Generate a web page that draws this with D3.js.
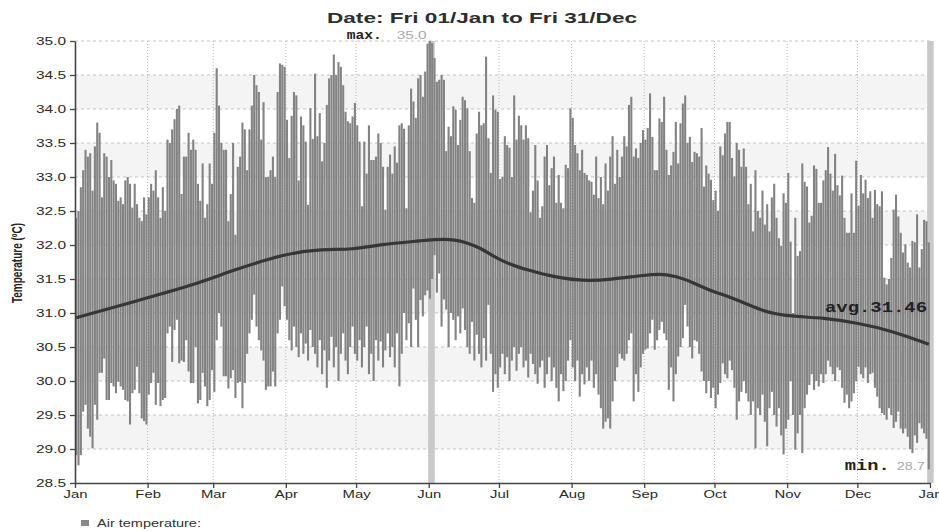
<!DOCTYPE html>
<html>
<head>
<meta charset="utf-8">
<script src="https://cdn.jsdelivr.net/npm/d3@7"></script>
<style>
  body { margin: 0; background: #fff; }
  text { font-family: "Liberation Sans", Arial, sans-serif; }
  .mono { font-family: "Liberation Mono", "DejaVu Sans Mono", monospace; font-weight: bold; }
</style>
</head>
<body>
<svg id="chart" width="939" height="531"></svg>
<script>
var title = "Date: Fri 01/Jan to Fri 31/Dec";
var yearStart = "2021-01-01";
var seriesName = "Air temperature:";
var yTitle = "Temperature (ºC)";
var avgTemp = 31.46;

// daily maximum, one line per month
var dayHigh = [
  32.4, 32.5, 32.85, 33.1, 33.4, 33.3, 33.35, 32.8, 33.45, 33.8, 33.65, 32.7, 33.35, 33.3, 33.0, 33.25, 32.95, 32.9, 32.65, 32.7, 32.6, 32.95, 33.0, 32.9, 32.55, 32.9, 32.6, 32.4, 32.35, 32.7, 32.45,
  32.7, 32.9, 32.8, 33.1, 32.7, 32.4, 32.85, 32.5, 33.55, 33.5, 33.7, 33.85, 34.0, 34.05, 32.75, 33.3, 33.3, 33.65, 33.4, 33.55, 33.4, 32.9, 32.65, 33.2, 32.4, 32.6, 33.2, 32.9,
  33.65, 34.6, 34.05, 33.5, 33.4, 33.4, 32.35, 32.75, 33.5, 32.15, 33.15, 33.3, 33.8, 33.7, 33.1, 33.7, 34.05, 34.5, 34.35, 34.25, 33.55, 34.1, 33.0, 33.0, 33.1, 33.3, 33.0, 34.25, 34.67, 34.65, 34.62,
  33.84, 33.28, 33.9, 34.25, 34.2, 32.95, 33.89, 33.76, 33.52, 32.59, 34.01, 33.56, 34.52, 33.6, 33.94, 33.23, 33.5, 34.06, 34.45, 34.5, 34.8, 34.5, 34.69, 34.62, 34.35, 33.96, 33.82, 33.79, 33.89, 34.09,
  33.76, 33.52, 32.57, 33.52, 33.05, 33.76, 33.25, 33.25, 33.3, 33.64, 33.5, 33.15, 32.52, 33.15, 33.33, 33.05, 33.45, 33.21, 33.76, 33.79, 33.71, 32.54, 33.76, 34.3, 34.11, 33.87, 34.45, 34.5, 34.18, 34.55, 34.96,
  35.0, 34.97, 34.75, 34.4, 34.43, 34.5, 34.43, 33.38, 33.74, 33.6, 34.04, 33.99, 33.47, 33.84, 34.18, 34.13, 34.01, 33.38, 32.69, 32.62, 33.64, 33.96, 33.76, 33.79, 34.77, 33.57, 33.06, 34.2, 33.99, 33.96,
  32.97, 33.0, 33.6, 33.47, 33.43, 33.0, 34.2, 33.55, 33.9, 33.76, 33.55, 33.76, 33.57, 32.48, 32.8, 33.47, 32.95, 32.4, 32.57, 33.3, 33.47, 32.88, 33.13, 33.3, 32.62, 33.03, 32.62, 32.54, 33.18, 33.13, 34.01,
  33.87, 33.47, 33.35, 33.1, 33.4, 33.06, 33.03, 32.95, 32.93, 32.74, 33.3, 32.69, 33.0, 32.6, 33.2, 32.8, 33.3, 33.6, 32.9, 33.4, 33.0, 33.3, 33.6, 33.45, 34.06, 34.18, 33.3, 33.42, 33.28, 33.5, 33.69,
  33.55, 33.72, 34.23, 33.59, 33.1, 33.1, 33.86, 33.81, 34.18, 33.4, 33.03, 33.17, 33.37, 33.81, 33.2, 33.79, 34.08, 34.2, 33.5, 33.59, 33.22, 33.37, 33.35, 33.3, 33.72, 32.86, 33.17, 33.05, 32.96, 32.66,
  32.8, 32.5, 33.45, 33.32, 33.64, 33.81, 33.81, 33.28, 33.01, 33.5, 33.4, 33.15, 33.42, 33.15, 32.6, 32.9, 32.2, 33.1, 32.5, 32.4, 32.8, 32.3, 32.6, 32.2, 32.7, 32.9, 32.4, 32.1, 31.99, 32.76, 32.62,
  33.06, 32.05, 31.0, 32.4, 31.84, 31.91, 33.2, 32.93, 32.86, 32.33, 32.43, 33.17, 33.12, 32.62, 32.62, 32.95, 33.1, 33.44, 33.05, 32.8, 33.34, 32.88, 32.73, 33.02, 32.4, 32.18, 32.18, 32.76, 32.18, 33.24,
  32.58, 33.03, 32.76, 32.96, 32.69, 32.79, 32.4, 32.81, 32.6, 32.57, 32.79, 31.52, 31.42, 31.5, 31.81, 32.52, 32.74, 32.42, 32.18, 31.89, 32.01, 31.74, 31.67, 32.06, 32.04, 32.45, 31.67, 31.94, 32.37, 32.35, 32.04
];

// daily minimum, one line per month
var dayLow = [
  28.91, 28.76, 28.91, 29.55, 29.65, 29.3, 29.18, 29.01, 29.65, 29.43, 30.12, 30.12, 30.33, 29.72, 29.72, 29.97, 29.92, 29.82, 29.99, 29.92, 29.87, 29.72, 29.7, 29.36, 29.82, 29.87, 30.21, 29.82, 29.45, 29.41, 29.36,
  29.8, 29.97, 30.12, 29.65, 29.97, 29.63, 29.72, 29.75, 30.7, 30.8, 30.28, 30.75, 30.9, 30.26, 30.3, 30.28, 30.6, 30.14, 29.97, 29.97, 30.5, 29.67, 29.72, 30.12, 29.92, 29.63, 29.72, 30.16,
  29.84, 30.6, 31.0, 30.8, 30.07, 30.07, 29.89, 30.04, 30.16, 29.75, 29.97, 29.99, 29.6, 29.97, 30.4, 30.7, 30.9, 31.27, 30.8, 30.6, 30.45, 30.3, 29.87, 29.92, 29.92, 30.14, 29.92, 30.7, 30.9, 31.39, 31.1,
  30.9, 30.6, 30.45, 30.8, 30.5, 30.35, 30.7, 30.4, 30.55, 30.3, 30.75, 30.5, 30.4, 30.2, 30.6, 30.1, 30.45, 29.9, 30.3, 30.65, 30.2, 30.5, 30.0, 30.4, 30.7, 30.3, 30.1, 30.5, 30.8, 30.4,
  30.3, 30.6, 30.2, 30.5, 30.8, 30.1, 30.4, 30.0, 30.6, 30.3, 30.58, 30.2, 30.45, 30.7, 30.35, 30.5, 30.2, 30.7, 29.92, 30.4, 31.0, 30.6, 30.85, 30.5, 31.36, 30.9, 30.5, 31.19, 30.95, 31.26, 31.33,
  31.21, 31.5, 31.85, 31.3, 31.58, 30.8, 31.2, 31.05, 30.5, 31.0, 30.9, 30.6, 30.95, 30.7, 31.07, 30.75, 30.5, 30.4, 30.87, 30.3, 30.68, 30.4, 30.2, 30.63, 30.3, 31.12, 30.4, 29.84, 30.1, 29.9,
  30.2, 30.4, 30.1, 30.35, 30.0, 30.3, 30.5, 30.15, 30.4, 30.5, 30.2, 30.3, 30.05, 30.4, 30.25, 30.1, 29.96, 30.2, 30.3, 29.9, 30.1, 30.35, 30.0, 30.2, 29.9, 29.7, 30.1, 29.85, 30.0, 30.3, 30.6,
  30.2, 30.0, 30.3, 29.77, 30.1, 29.95, 30.2, 30.0, 30.3, 29.9, 30.1, 29.8, 29.6, 29.3, 29.4, 29.45, 29.3, 29.7, 30.0, 30.2, 30.4, 30.33, 30.3, 30.4, 30.6, 30.7, 29.7, 30.1, 29.84, 30.2, 30.4,
  30.46, 30.48, 30.7, 30.9, 30.46, 30.6, 30.75, 30.87, 30.7, 30.6, 29.87, 30.2, 29.7, 30.1, 30.36, 30.5, 30.63, 31.12, 30.8, 30.5, 30.33, 30.6, 30.58, 30.4, 30.14, 30.0, 29.82, 30.0, 29.75, 29.9,
  29.6, 29.8, 29.97, 30.26, 30.1, 30.04, 30.3, 30.16, 29.9, 29.43, 29.7, 29.84, 30.0, 29.82, 29.7, 29.5, 29.7, 29.01, 29.6, 29.5, 29.8, 29.4, 29.04, 29.6, 29.84, 29.5, 29.33, 29.6, 29.2, 28.92, 29.3,
  29.43, 30.0, 29.5, 28.99, 29.23, 29.5, 28.94, 29.6, 29.8, 29.94, 30.1, 29.87, 30.0, 29.92, 30.1, 29.97, 30.1, 30.3, 30.21, 30.1, 30.0, 30.2, 30.16, 29.9, 29.68, 29.8, 29.6, 29.7, 29.82, 30.0,
  30.21, 30.1, 30.04, 30.2, 29.97, 30.1, 30.12, 29.9, 29.77, 29.6, 29.53, 29.5, 29.43, 29.6, 29.5, 29.31, 29.4, 29.55, 29.3, 29.23, 29.3, 29.18, 29.0, 28.94, 29.2, 29.09, 29.38, 29.3, 29.23, 29.15, 28.7
];

// smoothed trend (day of year, value)
var trendDay  = [0, 25, 50, 67, 90, 105, 118, 130, 147, 161, 173, 181, 194, 204, 216, 228, 243, 252, 261, 268, 283, 294, 305, 319, 334, 348, 364];
var trendTemp = [30.93, 31.17, 31.41, 31.63, 31.88, 31.94, 31.93, 32.01, 32.06, 32.11, 31.96, 31.76, 31.62, 31.53, 31.47, 31.49, 31.56, 31.58, 31.49, 31.36, 31.19, 31.01, 30.95, 30.93, 30.85, 30.74, 30.54];

var yTicks = [28.5, 29.0, 29.5, 30.0, 30.5, 31.0, 31.5, 32.0, 32.5, 33.0, 33.5, 34.0, 34.5, 35.0];

var svg = d3.select("#chart"),
    plotL = 75, plotR = 930, plotT = 41, plotB = 483;

var start = new Date(yearStart + "T00:00:00Z");
var x = d3.scaleUtc()
    .domain([start, d3.utcDay.offset(start, 365)])
    .range([plotL, plotR]);
var y = d3.scaleLinear()
    .domain([28.5, 35])
    .range([plotB, plotT]);
var step = x(d3.utcDay.offset(start, 1)) - x(start);

var days = dayHigh.map(function(h, i) {
  return { date: d3.utcDay.offset(start, i), high: h, low: dayLow[i] };
});
var maxDay = days[d3.maxIndex(days, function(d) { return d.high; })],
    minDay = days[d3.minIndex(days, function(d) { return d.low; })];

function stretch(sel, k) {
  sel.each(function() {
    var w = this.getComputedTextLength();
    d3.select(this).attr("textLength", w * k).attr("lengthAdjust", "spacingAndGlyphs");
  });
}

// alternating bands
svg.append("g").selectAll("rect")
  .data(yTicks.filter(function(t) { return t % 1 === 0 && t < 35; }))
  .enter().append("rect")
    .attr("x", plotL)
    .attr("width", plotR - plotL)
    .attr("y", function(d) { return y(d + 0.5); })
    .attr("height", function(d) { return y(d) - y(d + 0.5); })
    .attr("fill", "#f4f4f4");

// grid
svg.append("g").selectAll("line")
  .data(yTicks.slice(1))
  .enter().append("line")
    .attr("x1", plotL).attr("x2", plotR)
    .attr("y1", function(d) { return y(d); })
    .attr("y2", function(d) { return y(d); })
    .attr("stroke", "#c4c4c4")
    .attr("stroke-dasharray", "3,3");

svg.append("g").selectAll("line")
  .data(x.ticks(d3.utcMonth.every(1)).slice(1))
  .enter().append("line")
    .attr("x1", function(d) { return x(d); })
    .attr("x2", function(d) { return x(d); })
    .attr("y1", plotT).attr("y2", plotB)
    .attr("stroke", "#b8b8b8")
    .attr("stroke-dasharray", "1,2");

// highlight of the max / min days
svg.append("g").selectAll("rect")
  .data([maxDay, minDay])
  .enter().append("rect")
    .attr("x", function(d) { return x(d.date) - 0.5; })
    .attr("width", step * 2.8)
    .attr("y", plotT)
    .attr("height", plotB - plotT)
    .attr("fill", "#c9c9c9");

// daily range bars
svg.append("g").selectAll("rect")
  .data(days)
  .enter().append("rect")
    .attr("x", function(d) { return x(d.date) + 0.1; })
    .attr("width", step - 0.25)
    .attr("y", function(d) { return y(d.high); })
    .attr("height", function(d) { return y(d.low) - y(d.high); })
    .attr("fill", "#838383");

// trend line
var line = d3.line()
    .x(function(d) { return x(d3.utcDay.offset(start, d)) + step / 2; })
    .y(function(d, i) { return y(trendTemp[i]); })
    .curve(d3.curveBasis);

svg.append("path")
    .attr("d", line(trendDay))
    .attr("fill", "none")
    .attr("stroke", "#363636")
    .attr("stroke-width", 3.2);

// axes
var yAxis = svg.append("g")
    .attr("transform", "translate(" + plotL + ",0)")
    .call(d3.axisLeft(y).tickValues(yTicks).tickFormat(d3.format(".1f")).tickSize(5).tickSizeOuter(0));
var xAxis = svg.append("g")
    .attr("transform", "translate(0," + plotB + ")")
    .call(d3.axisBottom(x).ticks(d3.utcMonth.every(1)).tickFormat(d3.utcFormat("%b")).tickSize(5).tickSizeOuter(0));

[yAxis, xAxis].forEach(function(a) {
  a.select(".domain").attr("stroke", "#444").attr("stroke-width", 1.6);
  a.selectAll(".tick line").attr("stroke", "#444").attr("stroke-width", 1.3);
  a.selectAll("text").attr("fill", "#2a2a2a").style("font-size", "11px")
    .style("font-family", "'Liberation Sans', Arial, sans-serif");
});
yAxis.selectAll("text").attr("x", -9);
xAxis.selectAll("text").attr("y", 7);
stretch(yAxis.selectAll("text"), 1.4);
stretch(xAxis.selectAll("text"), 1.35);

// title
svg.append("text")
    .attr("x", 327).attr("y", 23)
    .attr("fill", "#2e2e2e")
    .style("font-size", "15px")
    .style("font-weight", "bold")
    .text(title)
    .attr("textLength", 310).attr("lengthAdjust", "spacingAndGlyphs");

// y title
svg.append("text")
    .attr("transform", "translate(22,263) scale(1.4,1) rotate(-90)")
    .attr("text-anchor", "middle")
    .attr("fill", "#222")
    .style("font-size", "10px")
    .style("font-weight", "bold")
    .text(yTitle);

// legend
svg.append("rect")
    .attr("x", 81).attr("y", 520).attr("width", 8).attr("height", 6)
    .attr("fill", "#888");
svg.append("text")
    .attr("x", 97).attr("y", 527)
    .attr("fill", "#333")
    .style("font-size", "10px")
    .text(seriesName)
    .call(stretch, 1.45);

// annotations
function note(label, value, lx, vx, ty, labelSize, labelW, valueSize, valueW) {
  svg.append("text").attr("class", "mono")
      .attr("x", lx).attr("y", ty).attr("fill", "#222")
      .style("font-size", labelSize + "px")
      .text(label)
      .attr("textLength", labelW).attr("lengthAdjust", "spacingAndGlyphs");
  if (value !== null) {
    svg.append("text")
        .attr("x", vx).attr("y", ty).attr("fill", "#aaa")
        .style("font-size", valueSize + "px")
        .text(value)
        .attr("textLength", valueW).attr("lengthAdjust", "spacingAndGlyphs");
  }
}
note("max.", maxDay.high.toFixed(1), x(maxDay.date) - 82, x(maxDay.date) - 32, y(maxDay.high) - 2, 12, 35, 10.5, 30);
note("min.", minDay.low.toFixed(1), x(minDay.date) - 83, x(minDay.date) - 31, y(minDay.low) + 1, 14, 45, 10.5, 28);
note("avg." + avgTemp.toFixed(2), null, plotR - 105, 0, y(avgTemp) + 30, 14, 102, 0, 0);
</script>
</body>
</html>
